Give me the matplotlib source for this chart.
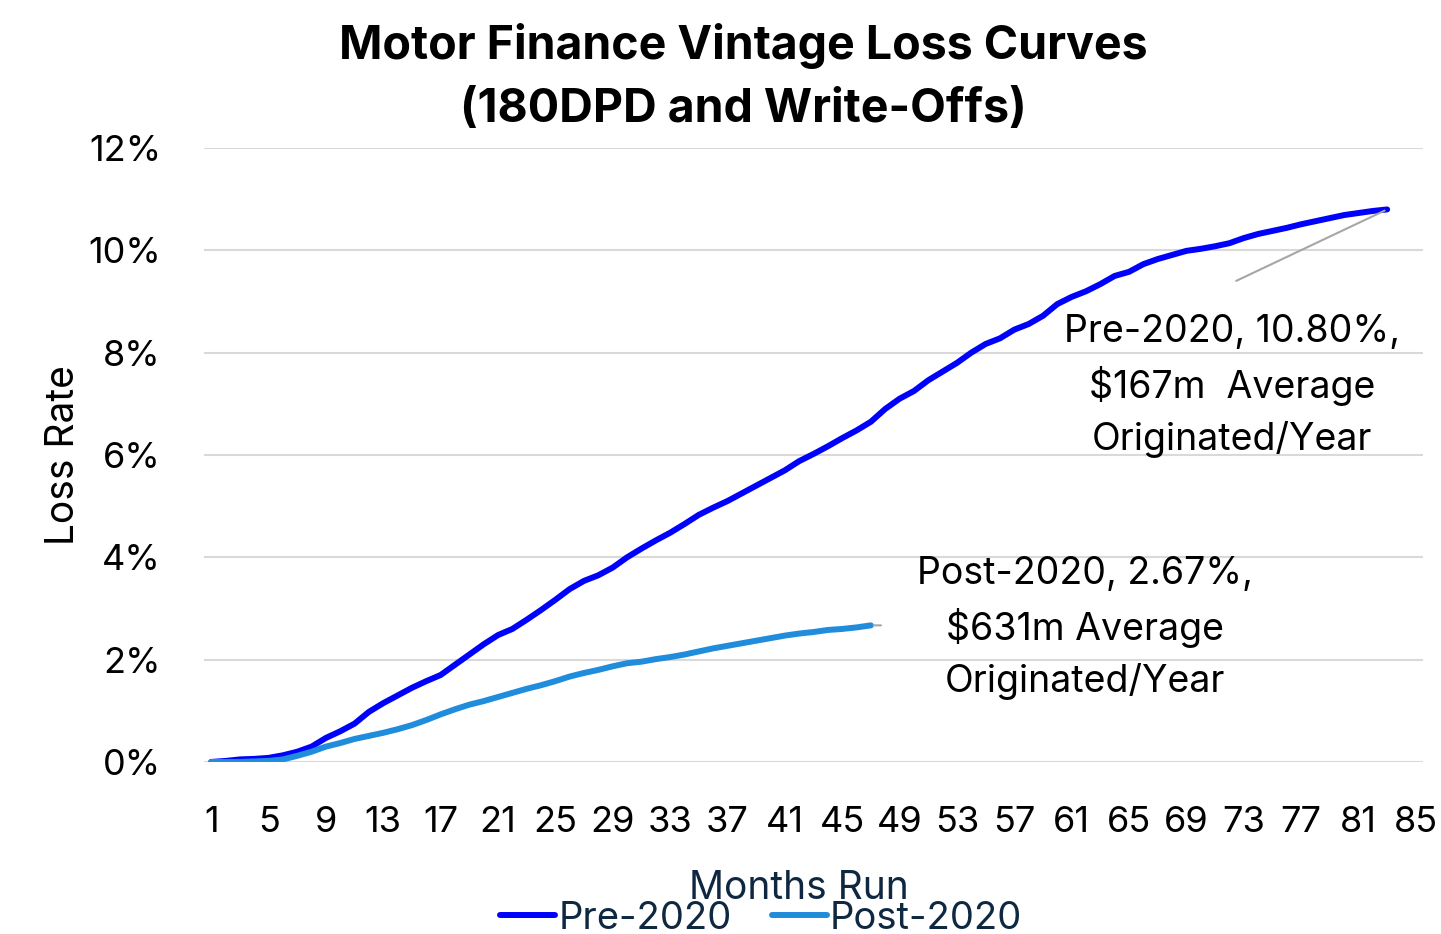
import numpy as np
import matplotlib
matplotlib.use("Agg")
import matplotlib.pyplot as plt
from matplotlib.ticker import FuncFormatter

# Loss rate (%) by months run
months = list(range(1, 86))

pre_2020 = [0.00, 0.02, 0.05, 0.06, 0.08, 0.13, 0.20, 0.30, 0.47, 0.60,
            0.75, 0.98, 1.15, 1.30, 1.45, 1.58, 1.70, 1.90, 2.10, 2.30,
            2.48, 2.60, 2.78, 2.97, 3.17, 3.38, 3.54, 3.65, 3.80, 4.00,
            4.17, 4.33, 4.48, 4.65, 4.83, 4.97, 5.10, 5.25, 5.40, 5.55,
            5.70, 5.88, 6.02, 6.17, 6.33, 6.48, 6.65, 6.90, 7.10, 7.25,
            7.46, 7.63, 7.80, 8.00, 8.17, 8.28, 8.45, 8.56, 8.72, 8.95,
            9.09, 9.20, 9.34, 9.50, 9.58, 9.73, 9.83, 9.91, 9.99, 10.03,
            10.08, 10.14, 10.24, 10.32, 10.38, 10.44, 10.51, 10.57, 10.63, 10.69,
            10.73, 10.77, 10.80]

post_2020 = [0.00, 0.00, 0.00, 0.01, 0.02, 0.05, 0.12, 0.20, 0.30, 0.37,
             0.45, 0.51, 0.57, 0.64, 0.72, 0.82, 0.93, 1.03, 1.12, 1.19,
             1.27, 1.35, 1.43, 1.50, 1.58, 1.67, 1.74, 1.80, 1.87, 1.93,
             1.96, 2.01, 2.05, 2.10, 2.16, 2.22, 2.27, 2.32, 2.37, 2.42,
             2.47, 2.51, 2.54, 2.58, 2.60, 2.63, 2.67]

pre_label = "Pre-2020, 10.80%,\n$167m  Average\nOriginated/Year"
post_label = "Post-2020, 2.67%,\n$631m Average\nOriginated/Year"

navy = "#0E2841"
plt.rcParams['font.family'] = ['Inter', 'DejaVu Sans']

fig = plt.figure(figsize=(14.41, 9.34), dpi=100)
ax = fig.add_axes([0.1416, 0.1842, 0.8459, 0.6573])

ax.plot(months[:len(pre_2020)], pre_2020, color="#0000FF", lw=4.3,
        solid_capstyle="round", label="Pre-2020", zorder=3)
ax.plot(months[:len(post_2020)], post_2020, color="#208CDC", lw=4.3,
        solid_capstyle="round", label="Post-2020", zorder=3)

ax.set_xlim(0.5, 85.5)
ax.set_ylim(0, 12)
ax.set_xticks(months[::4])
ax.set_yticks(np.arange(0, 13, 2))
ax.yaxis.set_major_formatter(FuncFormatter(lambda v, p: f"{v:.0f}%"))
ax.tick_params(axis="both", length=0, labelsize=26)
ax.tick_params(axis="x", pad=32)
ax.tick_params(axis="y", pad=31)
ax.grid(axis="y", color="#D9D9D9", lw=1.5)
ax.set_axisbelow(True)
for s in ax.spines.values():
    s.set_visible(False)

ax.set_ylabel("Loss Rate", fontsize=28)
ax.yaxis.set_label_coords(-0.100, 0.5)
ax.set_xlabel("Months Run", fontsize=28, color=navy, va="center")
ax.xaxis.set_label_coords(0.488, -0.206)

fig.text(0.516, 0.975, "Motor Finance Vintage Loss Curves\n(180DPD and Write-Offs)",
         fontsize=33.5, fontweight="bold", ha="center", va="top", linespacing=1.55)

# data labels with leader lines
ax.annotate("", xy=(83, 10.8), xytext=(72.3, 9.38),
            arrowprops=dict(arrowstyle="-", color="#A6A6A6", lw=1.5))
ax.text(72.2, 7.35, pre_label, fontsize=27, ha="center", va="center",
        linespacing=1.5)
ax.annotate("", xy=(47, 2.67), xytext=(47.9, 2.67),
            arrowprops=dict(arrowstyle="-", color="#A6A6A6", lw=1.5))
ax.text(61.9, 2.62, post_label, fontsize=27, ha="center", va="center",
        linespacing=1.5)

leg = ax.legend(loc="center", bbox_to_anchor=(0.457, -0.255), ncol=2,
                frameon=False, fontsize=27.5, handlelength=1.45, handletextpad=0.08,
                columnspacing=1.05, borderaxespad=0, borderpad=0)
for t in leg.get_texts():
    t.set_color(navy)

fig.savefig("out.png", dpi=100)
